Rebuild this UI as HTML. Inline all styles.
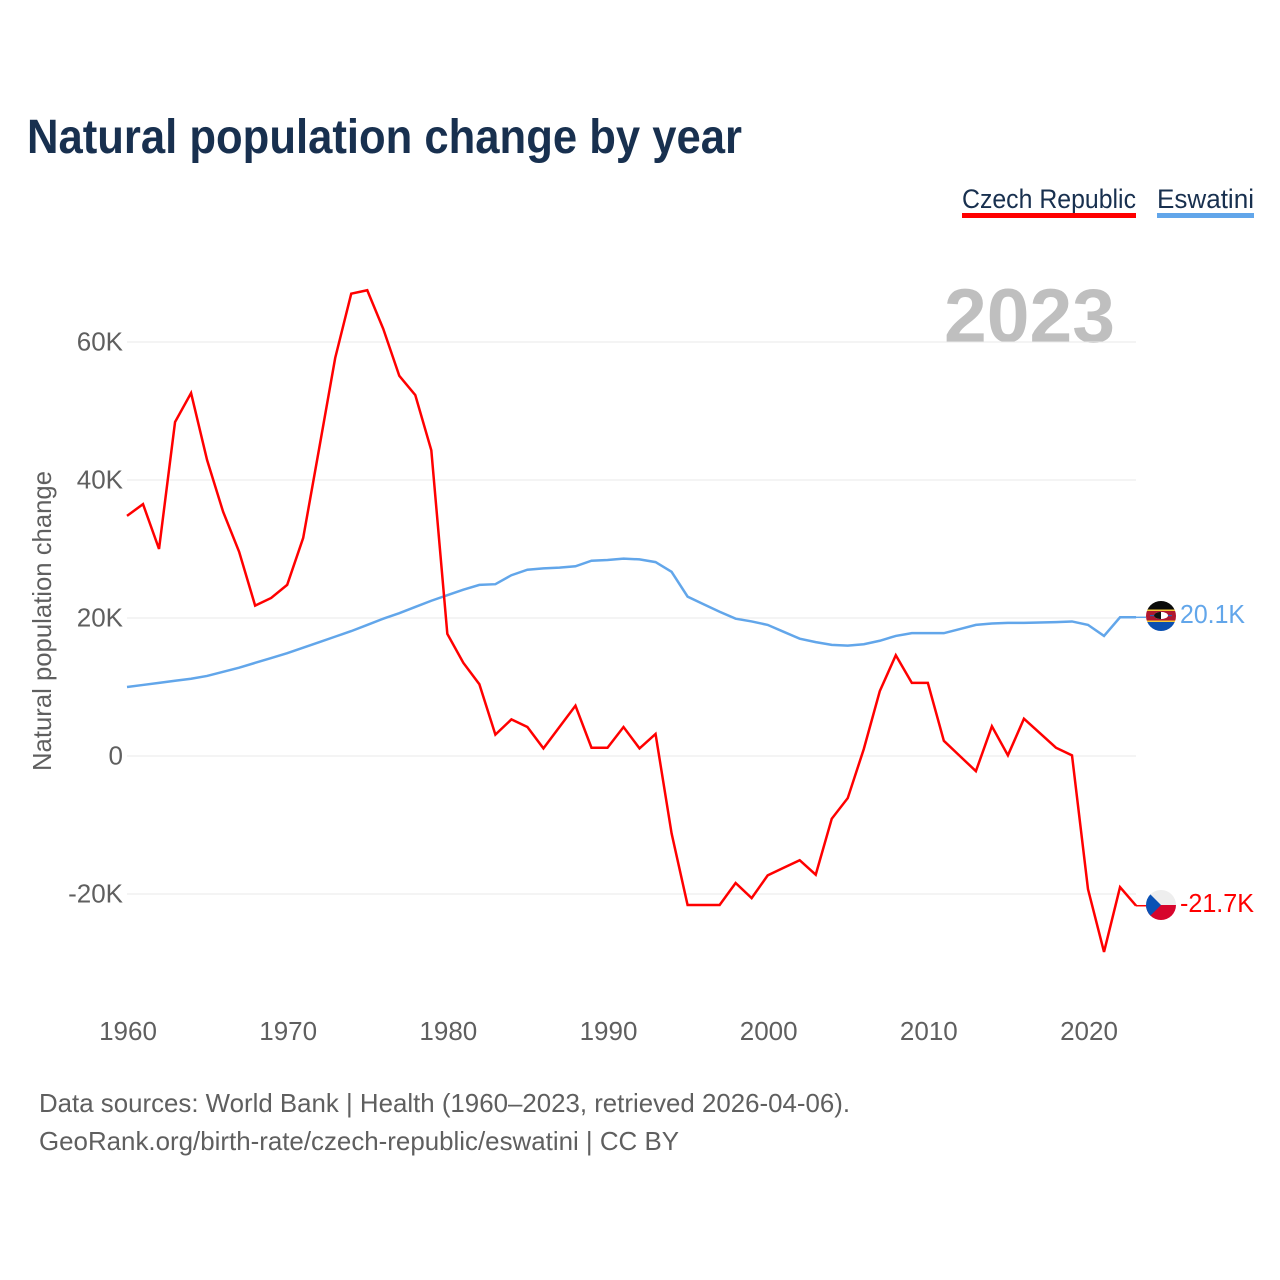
<!DOCTYPE html>
<html lang="en">
<head>
<meta charset="utf-8">
<title>Natural population change by year</title>
<style>
html,body{margin:0;padding:0;background:#fff;}
svg{display:block;font-family:"Liberation Sans",sans-serif;}
</style>
</head>
<body>
<svg id="chart" xmlns="http://www.w3.org/2000/svg" width="1280" height="1280" viewBox="0 0 1280 1280">
  <rect x="0" y="0" width="1280" height="1280" fill="#ffffff"/>
  <text x="27" y="153" font-size="48" font-weight="700" fill="#18304f" textLength="715" lengthAdjust="spacingAndGlyphs">Natural population change by year</text>

  <g>
    <text x="962" y="208" font-size="27" fill="#18304f" textLength="174" lengthAdjust="spacingAndGlyphs">Czech Republic</text>
    <rect x="962" y="213" width="174" height="5" fill="#ff0000"/>
  </g>
  <g>
    <text x="1157" y="208" font-size="27" fill="#18304f" textLength="97" lengthAdjust="spacingAndGlyphs">Eswatini</text>
    <rect x="1157" y="213" width="97" height="5" fill="#62a6ea"/>
  </g>

  <text x="944" y="342" font-size="76" font-weight="700" fill="#bfbfbf" textLength="171" lengthAdjust="spacingAndGlyphs">2023</text>

  <g id="grid"></g>
  <g id="y-ticks"></g>
  <g id="x-ticks"></g>
  <text transform="translate(51,621) rotate(-90)" text-anchor="middle" font-size="26" fill="#5f5f5f" textLength="300" lengthAdjust="spacingAndGlyphs">Natural population change</text>
  <g id="series"></g>

  <defs>
    <clipPath id="clip-sz"><circle cx="1161" cy="616" r="15"/></clipPath>
    <clipPath id="clip-cz"><circle cx="1161" cy="905" r="15"/></clipPath>
  </defs>
  <g clip-path="url(#clip-sz)">
    <rect x="1146" y="601" width="30" height="9" fill="#0b0b0b"/>
    <rect x="1146" y="609.500" width="30" height="1.500" fill="#f5c93a"/>
    <rect x="1146" y="611" width="30" height="9.500" fill="#b0172f"/>
    <rect x="1146" y="620.500" width="30" height="1.500" fill="#f5c93a"/>
    <rect x="1146" y="622" width="30" height="9" fill="#0a4fb0"/>
    <ellipse cx="1161" cy="615.500" rx="7" ry="3.600" fill="#ffffff"/>
    <path d="M1154 615.500 A7 3.600 0 0 1 1161 611.900 L1161 619.100 A7 3.600 0 0 1 1154 615.500Z" fill="#111111"/>
    <rect x="1150" y="615" width="4" height="1.200" fill="#2a5db0"/>
    <rect x="1168" y="615" width="4" height="1.200" fill="#2a5db0"/>
  </g>
  <g clip-path="url(#clip-cz)">
    <rect x="1146" y="890" width="30" height="15" fill="#eeeeee"/>
    <rect x="1146" y="905" width="30" height="15" fill="#d7052c"/>
    <path d="M1146 890 L1161 905 L1146 920Z" fill="#0b52b5"/>
  </g>
  <text x="1180" y="623" font-size="26" fill="#62a6ea" textLength="65" lengthAdjust="spacingAndGlyphs">20.1K</text>
  <text x="1180" y="912" font-size="26" fill="#ff0000" textLength="74" lengthAdjust="spacingAndGlyphs">-21.7K</text>

  <text x="39" y="1112" font-size="26" fill="#5f5f5f" textLength="811" lengthAdjust="spacingAndGlyphs">Data sources: World Bank | Health (1960–2023, retrieved 2026-04-06).</text>
  <text x="39" y="1150" font-size="26" fill="#5f5f5f" textLength="640" lengthAdjust="spacingAndGlyphs">GeoRank.org/birth-rate/czech-republic/eswatini | CC BY</text>
</svg>
<script>
const startYear = 1960;
const czechValues = [34.8,36.5,30.0,48.4,52.6,42.9,35.4,29.6,21.8,22.9,24.8,31.6,44.6,57.7,67.0,67.5,61.9,55.1,52.3,44.3,17.7,13.5,10.4,3.1,5.3,4.2,1.1,4.2,7.3,1.2,1.2,4.2,1.1,3.2,-11.2,-21.6,-21.6,-21.6,-18.4,-20.6,-17.3,-16.2,-15.1,-17.2,-9.1,-6.1,1.0,9.4,14.6,10.6,10.6,2.2,0,-2.2,4.3,0.1,5.4,3.3,1.2,0.1,-19.3,-28.4,-19.0,-21.7];
const eswatiniValues = [10.0,10.3,10.6,10.9,11.2,11.6,12.2,12.8,13.5,14.2,14.9,15.7,16.5,17.3,18.1,19.0,19.9,20.7,21.6,22.5,23.3,24.1,24.8,24.9,26.2,27.0,27.2,27.3,27.5,28.3,28.4,28.6,28.5,28.1,26.7,23.1,22.0,20.9,19.9,19.5,19.0,18.0,17.0,16.5,16.1,16.0,16.2,16.7,17.4,17.8,17.8,17.8,18.4,19.0,19.2,19.3,19.3,19.35,19.4,19.5,19.0,17.4,20.1,20.1];
const yTickValues = [60,40,20,0,-20];
const yTickLabels = ["60K","40K","20K","0","-20K"];
const xTickYears = [1960,1970,1980,1990,2000,2010,2020];

const NS = "http://www.w3.org/2000/svg";
function xScale(year){ return 127 + (year - 1960) * 16.0167; }
function yScale(k){ return 756 - k * 6.9; }
function make(tag, attrs, parent){
  const el = document.createElementNS(NS, tag);
  Object.keys(attrs).forEach(function(key){ el.setAttribute(key, attrs[key]); });
  parent.appendChild(el);
  return el;
}

const gridGroup = document.getElementById("grid");
const yGroup = document.getElementById("y-ticks");
const xGroup = document.getElementById("x-ticks");
const seriesGroup = document.getElementById("series");

yTickValues.forEach(function(v, i){
  const line = make("line", {x1:127, x2:1136, y1:yScale(v), y2:yScale(v), stroke:"#e8e8e8", "stroke-width":1.1}, gridGroup);
  
  
  const label = make("text", {x:123, y:yScale(v)+8.500, "text-anchor":"end", "font-size":26, fill:"#5f5f5f"}, yGroup);
  
  
  label.textContent = yTickLabels[i];
});

xTickYears.forEach(function(year){
  const label = make("text", {x:xScale(year)+1, y:1040, "text-anchor":"middle", "font-size":26, fill:"#5f5f5f"}, xGroup);
  
  
  label.textContent = String(year);
});

function pointsFor(values){
  return values.map(function(v, i){
    return xScale(startYear + i).toFixed(2) + "," + yScale(v).toFixed(2);
  }).join(" ");
}

const eswatiniLine = make("polyline", {points:pointsFor(eswatiniValues), fill:"none", stroke:"#62a6ea", "stroke-width":2.500, "stroke-linejoin":"miter"}, seriesGroup);


const czechLine = make("polyline", {points:pointsFor(czechValues), fill:"none", stroke:"#ff0000", "stroke-width":2.500, "stroke-linejoin":"miter"}, seriesGroup);



const eswatiniLast = eswatiniValues[eswatiniValues.length - 1];
const czechLast = czechValues[czechValues.length - 1];
const eswatiniLeader = make("line", {x1:1136, x2:1146, y1:yScale(eswatiniLast), y2:yScale(eswatiniLast), stroke:"#62a6ea", "stroke-width":1.500}, seriesGroup);


const czechLeader = make("line", {x1:1136, x2:1146, y1:yScale(czechLast), y2:yScale(czechLast), stroke:"#ff0000", "stroke-width":1.500}, seriesGroup);


</script>
</body>
</html>
